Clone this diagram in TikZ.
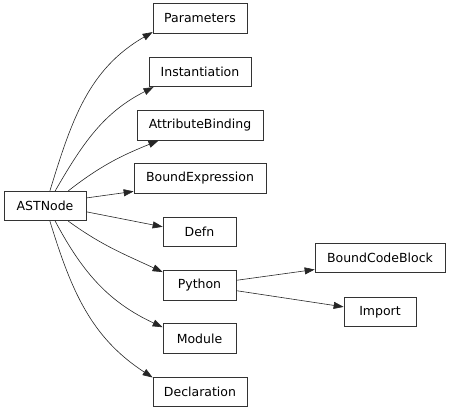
\documentclass[tikz,border=0pt]{standalone}
\usepackage{fontspec}
\setmainfont{DejaVu Sans}
\usetikzlibrary{arrows.meta}

\begin{document}
\begin{tikzpicture}[
  x=1pt, y=1pt,
  cls/.style={
    draw=black!80, line width=0.7pt, inner sep=0pt,
    minimum height=29.5pt,
    font=\fontsize{12.5}{15}\selectfont,
  },
  dep/.style={-{Triangle[length=10pt,width=7pt]}, line width=0.6pt, black!85},
  ]
  \useasboundingbox (0,0) rectangle (451,415);
  \node[cls, minimum width=82pt]  (ast)    at (45,209)    {ASTNode};
  \node[cls, minimum width=94pt]  (param)  at (200,396.5) {Parameters};
  \node[cls, minimum width=102pt] (inst)   at (200,343)   {Instantiation};
  \node[cls, minimum width=126pt] (attr)   at (200,289.5) {AttributeBinding};
  \node[cls, minimum width=132pt] (bexp)   at (200,236.5) {BoundExpression};
  \node[cls, minimum width=73pt]  (defn)   at (199.5,183) {Defn};
  \node[cls, minimum width=73pt]  (python) at (199.5,129.5) {Python};
  \node[cls, minimum width=73pt]  (module) at (199.5,76.5) {Module};
  \node[cls, minimum width=94pt]  (decl)   at (200,23)    {Declaration};
  \node[cls, minimum width=130pt] (bcb)    at (380,157)   {BoundCodeBlock};
  \node[cls, minimum width=72pt]  (import) at (380,103)   {Import};
  \draw[dep] (ast.72) to[out=73,in=210] (param.196);
  \draw[dep] (ast.56) to[out=60,in=207] (inst.198);
  \draw[dep] (ast.33) to[out=38,in=202] (attr.200);
  \draw[dep] (ast.11) -- (bexp.191);
  \draw[dep] (ast.-8) -- (defn.172);
  \draw[dep] (ast.-33) to[out=-36,in=155] (python.160);
  \draw[dep] (ast.-56) to[out=-62,in=155] (module.163);
  \draw[dep] (ast.-72) to[out=-73,in=147] (decl.163);
  \draw[dep] (python.8) -- (bcb.190);
  \draw[dep] (python.-8) -- (import.172);
\end{tikzpicture}
\end{document}
